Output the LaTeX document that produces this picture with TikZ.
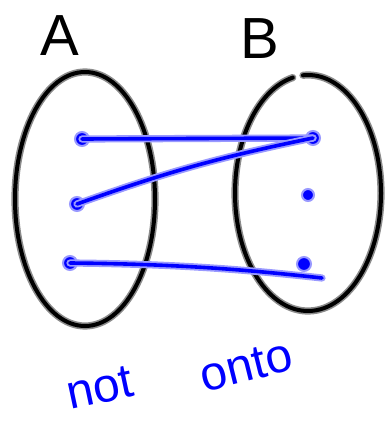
\documentclass[tikz,border=0pt]{standalone}
\usepackage{fontspec}
\setsansfont{Liberation Sans}
\usetikzlibrary{positioning}
\definecolor{penblue}{HTML}{0000FF}
\definecolor{halo}{HTML}{8C8C8C}
\tikzset{
  inkline/.style={
    draw=halo, double=black, double distance=4pt, line width=1.6pt,
    line cap=round, line join=round
  },
  blueline/.style={
    draw=penblue!40, double=penblue, double distance=3.6pt, line width=1.8pt,
    line cap=round, line join=round
  },
  dotmark/.style={
    circle, fill=penblue, draw=penblue!40, line width=2pt,
    inner sep=0pt, minimum size=14pt
  },
  setlabel/.style={
    font=\fontsize{58}{58}\selectfont\sffamily, text=black, inner sep=0pt
  },
  notelabel/.style={
    font=\fontsize{48}{48}\selectfont\sffamily, text=penblue, inner sep=0pt
  },
}
\begin{document}
\begin{tikzpicture}[x=1pt, y=-1pt]
  \useasboundingbox (0,0) rectangle (384,425);

  % the two sets
  \draw[inkline] (85,199) ellipse [x radius=70, y radius=127];
  \draw[inkline] (308,193) ++(-94:73 and 118)
    arc [start angle=-94, end angle=258, x radius=73, y radius=118];
  \node[setlabel] (setA) at (60,36) {A};
  \node[setlabel] (setB) at (260,39) {B};

  % elements
  \node[dotmark] (a1) at (82,139) {};
  \node[dotmark] (a2) at (77,204) {};
  \node[dotmark] (a3) at (70,263) {};
  \node[dotmark] (b1) at (313,138) {};
  \node[dotmark, minimum size=12pt] (b2) at (308,195) {};
  \node[dotmark] (b3) at (304,264) {};
  \coordinate (tail) at (322,278);

  % mapping
  \draw[blueline] (a1.center) -- (b1.center);
  \draw[blueline] (a2.center) to[bend left=4] (b1.center);
  \draw[blueline] (a3.center) .. controls (180,264) and (250,270) .. (tail);

  \node[notelabel, rotate=12] (nt) at (100,388) {not};
  \node[notelabel, rotate=14] (on) at (246,366) {onto};
\end{tikzpicture}
\end{document}
